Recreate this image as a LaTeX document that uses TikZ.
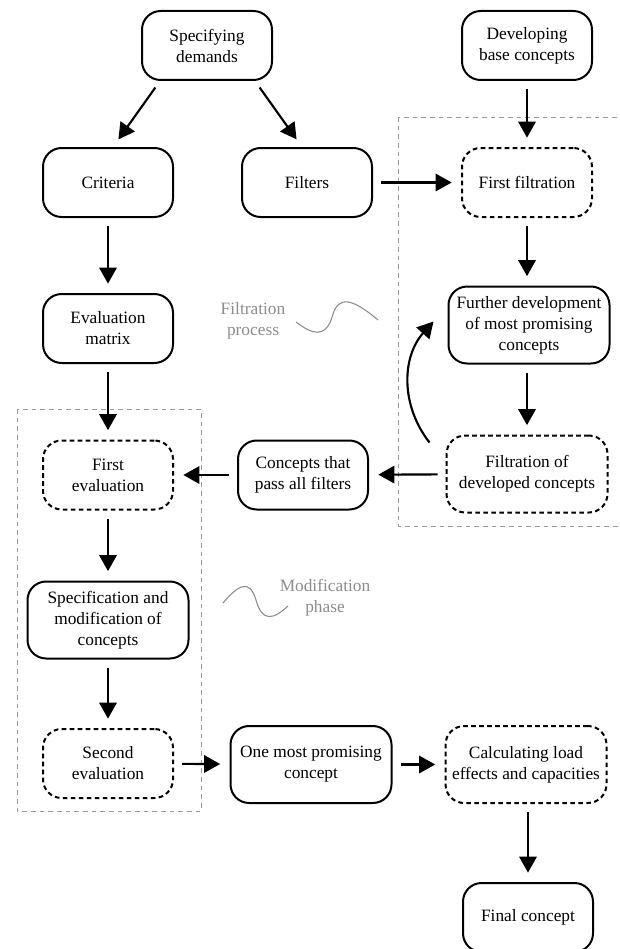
\documentclass[tikz,border=0pt]{standalone}
\usepackage{fontspec}
\setmainfont{Liberation Serif}
\usetikzlibrary{arrows.meta}

\begin{document}
\begin{tikzpicture}[x = 0.75pt, y = -0.75pt,
    box/.style = {draw, line width = 1.5pt, rounded corners = 14pt, align = center,
        minimum width = 97.5pt, minimum height = 51.75pt, inner sep = 2pt,
        font = \fontsize{13}{15.75}\selectfont},
    widebox/.style = {box, minimum width = 120.75pt, minimum height = 57.75pt},
    dbox/.style = {dash pattern = on 3.5pt off 2.5pt},
    arrow/.style = {-{Triangle[width = 13pt, length = 12pt]}, line width = 1.6pt,
        shorten < = 6pt, shorten > = 7pt},
    region/.style = {draw = gray!80, line width = 0.75pt, dash pattern = on 3.5pt off 3pt},
    note/.style = {text = gray!90, align = center, font = \fontsize{13}{15.75}\selectfont}]
        \clip (0, 0) rectangle (620, 949);
        % phases
        \draw [region] (398, 117) rectangle (640, 526);
        \draw [region] (17, 409) rectangle (201, 811);
        % nodes
        \node [box] (spec) at (207, 45.5) {Specifying\\demands};
        \node [box] (devel) at (527, 45.5) {Developing\\base concepts};
        \node [box] (crit) at (108, 182.5) {Criteria};
        \node [box] (filt) at (307, 182.5) {Filters};
        \node [box, dbox] (ffilt) at (527, 182.5) {First filtration};
        \node [box] (evalm) at (108, 328.5) {Evaluation\\matrix};
        \node [widebox] (furth) at (529, 325) {Further development\\of most promising\\concepts};
        \node [widebox, dbox] (dfilt) at (527, 474) {Filtration of\\developed concepts};
        \node [box] (pass) at (303, 475) {Concepts that\\pass all filters};
        \node [box, dbox] (feval) at (108, 475) {First\\evaluation};
        \node [widebox] (specmod) at (108, 620) {Specification and\\modification of\\concepts};
        \node [box, dbox] (seval) at (108, 763.5) {Second\\evaluation};
        \node [widebox] (one) at (311, 764.5) {One most promising\\concept};
        \node [widebox, dbox] (calc) at (526, 764.5) {Calculating load\\effects and capacities};
        \node [box] (final) at (528, 917.5) {Final concept};
        % notes
        \node [note] (fnote) at (253, 321) {Filtration\\process};
        \node [note] (mnote) at (325, 598) {Modification\\phase};
        \draw [gray!90, line width = 0.8pt] (296, 322) .. controls (312, 334) and (326, 340) .. (333, 314)
            .. controls (339, 296) and (352, 298) .. (378, 320);
        \draw [gray!90, line width = 0.8pt] (223, 603) .. controls (236, 588) and (249, 576) .. (256, 600)
            .. controls (262, 622) and (273, 620) .. (288, 606);
        % connectors
        \draw [arrow] ([shift = {(19, 0)}] spec.south west) -- ([shift = {(5, 0)}] crit.north);
        \draw [arrow] ([shift = {(-18, 0)}] spec.south east) -- ([shift = {(-5, 0)}] filt.north);
        \draw [arrow] (devel) -- (ffilt);
        \draw [arrow] (filt) -- (ffilt);
        \draw [arrow] (crit) -- (evalm);
        \draw [arrow] (ffilt) -- (furth.north -| ffilt);
        \draw [arrow] (furth.south -| dfilt) -- (dfilt);
        \draw [arrow, shorten < = 0pt, shorten > = 0pt] ([shift = {(-16, 8)}] dfilt.north west)
            to [bend left = 40] ([shift = {(-14, 36)}] furth.north west);
        \draw [arrow] (dfilt) -- (pass);
        \draw [arrow] (pass) -- (feval);
        \draw [arrow] (evalm) -- (feval);
        \draw [arrow] (feval) -- (specmod);
        \draw [arrow] (specmod) -- (seval);
        \draw [arrow] (seval) -- (one);
        \draw [arrow] (one) -- (calc);
        \draw [arrow] (calc.south -| final) -- (final);
\end{tikzpicture}
\end{document}
